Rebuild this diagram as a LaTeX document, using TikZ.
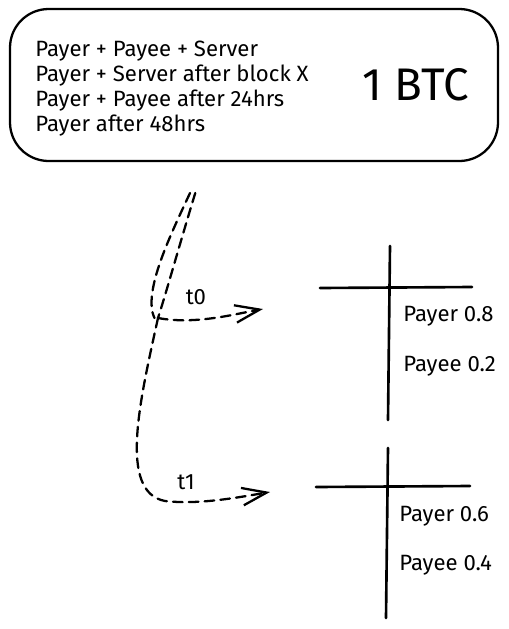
\documentclass[tikz,border=0pt]{standalone}
\usepackage{fontspec}
\setmainfont{Fira Sans}
\usepackage{tikz}
\usetikzlibrary{arrows.meta,positioning}

\tikzset{
    cond/.style={anchor=west, inner sep=0pt, font=\fontsize{12.6}{14}\selectfont},
    share/.style={anchor=west, inner sep=0pt, font=\fontsize{12.6}{14}\selectfont},
    tlabel/.style={inner sep=0pt, font=\fontsize{12.6}{14}\selectfont},
    tbar/.style={line width=1.5pt},
    flow/.style={dashed, dash pattern=on 5.5pt off 3.5pt, line width=1.3pt},
    flowarrow/.style={flow, -{Straight Barb[length=14pt,width=10pt,line width=1.3pt]}}
}

\begin{document}
\begin{tikzpicture}[x=0.02cm, y=-0.02cm, line cap=round]
    \useasboundingbox (0,0) rectangle (509,629);

    % Draw the output box
    \draw[line width=1.3pt, rounded corners=22] (10,9) rectangle (498,161);
    \node[cond] (c1) at (35,51) {Payer + Payee + Server};
    \node[cond] (c2) at (35,76) {Payer + Server after block X};
    \node[cond] (c3) at (35,101) {Payer + Payee after 24hrs};
    \node[cond] (c4) at (35,126) {Payer after 48hrs};
    \node[inner sep=0pt, font=\fontsize{26}{28}\selectfont] (btc) at (416,85) {1 BTC};

    % Draw the spending paths
    \coordinate (top) at (190,193);
    \coordinate (split0) at (158,318);
    \coordinate (end0) at (263,309);
    \coordinate (end1) at (270,492);
    \draw[flow] (top) .. controls (172,232) and (142,292) .. ([xshift=-2]split0);
    \draw[flow] ([xshift=3]top) .. controls (180,243) and (167,290) .. (split0);
    \draw[flowarrow] (split0) .. controls (195,325) and (235,314) .. (end0);
    \draw[flowarrow] (split0) .. controls (140,400) and (118,492) .. (165,501)
        .. controls (200,505) and (240,497) .. (end1);
    \node[tlabel] (t0) at (196,297) {t0};
    \node[tlabel] (t1) at (186,482) {t1};

    % Draw the first T chart
    \draw[tbar] (320,288) -- (472,287);
    \draw[tbar] (390,246) -- (388,420);
    \node[share] (p0) at (403,316) {Payer 0.8};
    \node[share] (q0) at (403,366) {Payee 0.2};

    % Draw the second T chart
    \draw[tbar] (316,487) -- (470,486);
    \draw[tbar] (388,448) -- (386,618);
    \node[share] (p1) at (399,516) {Payer 0.6};
    \node[share] (q1) at (399,565) {Payee 0.4};
\end{tikzpicture}
\end{document}
